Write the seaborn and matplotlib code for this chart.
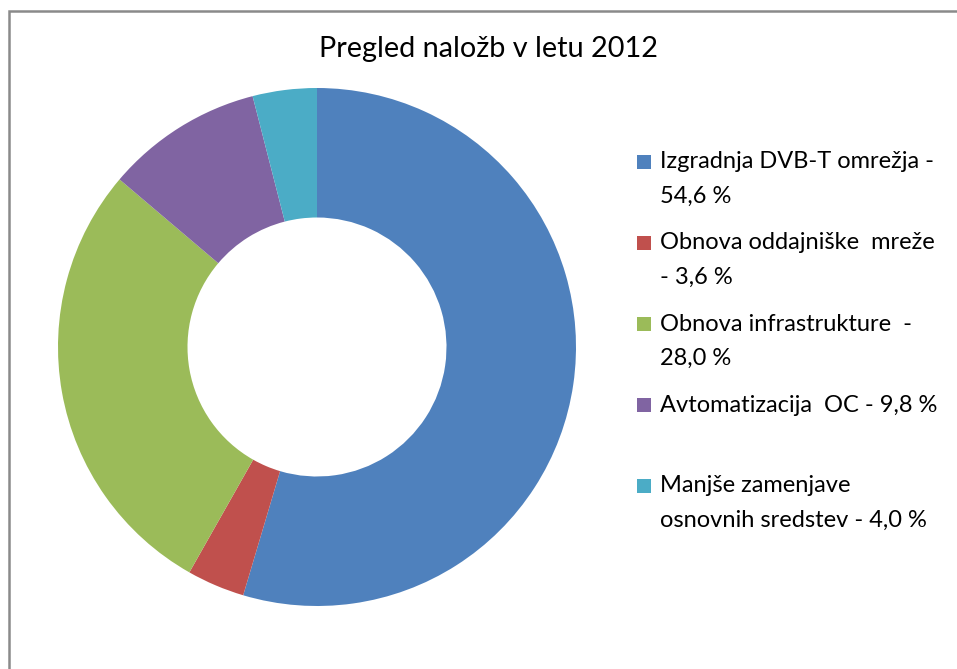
import matplotlib
matplotlib.use("Agg")
import matplotlib.pyplot as plt
import matplotlib.patches as mpatches
import seaborn as sns

# chart data
title = "Pregled naložb v letu 2012"
categories = [
    "Izgradnja DVB-T omrežja -\n54,6 %",
    "Obnova oddajniške  mreže\n- 3,6 %",
    "Obnova infrastrukture  -\n28,0 %",
    "Avtomatizacija  OC - 9,8 %",
    "Manjše zamenjave\nosnovnih sredstev - 4,0 %",
]
values = [54.6, 3.6, 28.0, 9.8, 4.0]
colors = ["#4F81BD", "#C0504D", "#9BBB59", "#8064A2", "#4BACC6"]

sns.set_theme(style="white")
plt.rcParams['font.family'] = ['Lato', 'DejaVu Sans']
palette = sns.color_palette(colors)

W, H = 957, 669
fig = plt.figure(figsize=(W / 100, H / 100), dpi=100)
fig.patch.set_facecolor("white")

# outer chart border
border = mpatches.Rectangle((9 / W, -0.1), 1.2, (H - 11) / H + 0.1,
                            transform=fig.transFigure, fill=False,
                            edgecolor="#8a8a8a", linewidth=1.8)
fig.patches.append(border)

# donut
cx, cy, r = 317, 669 - 347, 259
ax = fig.add_axes([(cx - r) / W, (cy - r) / H, 2 * r / W, 2 * r / H])
ax.pie(values, colors=palette, startangle=90, counterclock=False,
       radius=1.0, wedgeprops=dict(width=0.5, linewidth=0))
ax.set_xlim(-1, 1)
ax.set_ylim(-1, 1)
ax.set_aspect("equal")
ax.axis("off")

fig.text(488 / W, 1 - 49 / H, title, ha="center", va="center", fontsize=20.8, color="black")

# legend, fixed slot per entry like the original
x_box, x_txt = 637, 660
y0, step, line_h = 162, 81, 34
for i, (lab, col) in enumerate(zip(categories, palette)):
    y = y0 + i * step
    fig.patches.append(mpatches.Rectangle((x_box / W, 1 - (y + 7) / H), 14 / W, 14 / H,
                                          transform=fig.transFigure,
                                          facecolor=col, edgecolor="none"))
    for j, ln in enumerate(lab.split("\n")):
        fig.text(x_txt / W, 1 - (y + j * line_h) / H, ln, ha="left", va="center",
                 fontsize=17, color="black")

fig.savefig("out.png", dpi=100)
